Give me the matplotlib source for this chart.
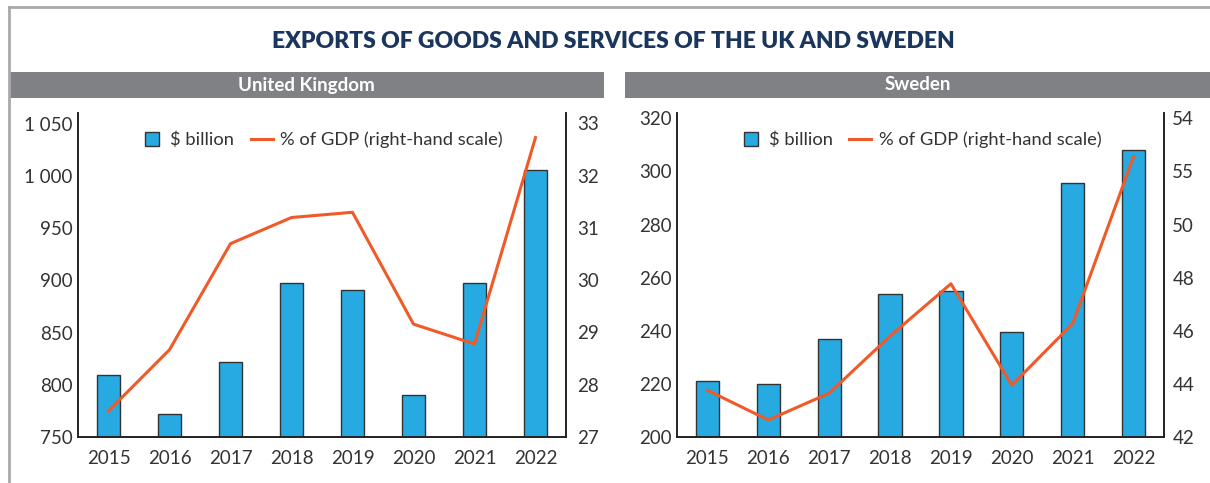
import matplotlib.pyplot as plt
from matplotlib.lines import Line2D
from matplotlib.patches import Rectangle

# data
years = ['2015', '2016', '2017', '2018', '2019', '2020', '2021', '2022']

uk_bn = [809, 772, 822, 898, 891, 790, 898, 1006]
uk_gdp = [27.5, 28.67, 30.7, 31.2, 31.3, 29.16, 28.78, 32.73]

se_bn = [221, 220, 237, 254, 255, 239.5, 295.5, 308]
se_gdp = [43.76, 42.64, 43.65, 45.8, 47.77, 43.95, 46.27, 52.56]

uk_left_ticks = [750, 800, 850, 900, 950, 1000, 1050]
uk_left_labels = ['750', '800', '850', '900', '950', '1 000', '1 050']
uk_right_ticks = [27, 28, 29, 30, 31, 32, 33]
se_left_ticks = [200, 220, 240, 260, 280, 300, 320]
se_right_ticks = [42, 44, 46, 48, 50, 52, 54]
se_right_labels = ['42', '44', '46', '48', '50', '55', '54']

BLUE = '#27a9e1'
EDGE = '#333333'
ORANGE = '#f05a28'
NAVY = '#1b365d'
GREY = '#808184'
TXT = '#333333'

FONT = 'Lato'

fig = plt.figure(figsize=(12.1, 4.83), dpi=100)
W, H = 1210, 483

# frame lines and title
fig.add_artist(Line2D([9 / W, 1], [1 - 7 / H, 1 - 7 / H], color='#a7a9ac', lw=2))
fig.add_artist(Line2D([9 / W, 9 / W], [0, 1 - 7 / H], color='#a7a9ac', lw=2))
fig.text(0.507, 1 - 42 / H, 'EXPORTS OF GOODS AND SERVICES OF THE UK AND SWEDEN',
         ha='center', va='center', color=NAVY, fontsize=16.5, fontweight='heavy',
         family=FONT)


def header(left, right, name):
    # grey header bar above each panel
    fig.add_artist(Rectangle((left / W, 1 - 98 / H), (right - left) / W, 26 / H,
                             transform=fig.transFigure, color=GREY, lw=0))
    fig.text((left + right) / 2 / W, 1 - 85 / H, name, ha='center', va='center',
             color='white', fontsize=13.5, fontweight='bold', family=FONT)


def draw(pos, bn, gdp, lt, ll, llim, rt, rl, rlim, rpad):
    ax = fig.add_axes(pos)
    x = range(len(years))
    ax.bar(x, bn, width=0.38, color=BLUE, edgecolor=EDGE, linewidth=1, zorder=2)
    ax.set_xlim(-0.5, len(years) - 0.5)
    ax.set_ylim(*llim)
    ax.set_yticks(lt)
    ax.set_yticklabels(ll)
    ax.set_xticks(list(x))
    ax.set_xticklabels(years)
    ax2 = ax.twinx()
    ax2.plot(x, gdp, color=ORANGE, lw=2.2, zorder=3)
    ax2.set_ylim(*rlim)
    ax2.set_yticks(rt)
    ax2.set_yticklabels(rl)
    for a in (ax, ax2):
        a.spines['top'].set_visible(False)
        for s in ('left', 'right', 'bottom'):
            a.spines[s].set_linewidth(1.2)
            a.spines[s].set_color('#222222')
        a.tick_params(length=0, labelsize=13.5, labelcolor=TXT)
        for lab in a.get_yticklabels() + a.get_xticklabels():
            lab.set_family(FONT)
    ax.tick_params(axis='y', pad=4)
    ax.tick_params(axis='x', pad=9)
    ax2.tick_params(axis='y', pad=rpad)
    handles = [Line2D([], [], marker='s', markersize=10.5, mfc=BLUE, mec=EDGE,
                      mew=1, linestyle='none'),
               Line2D([], [], color=ORANGE, lw=2.2)]
    ax2.legend(handles, ['$ billion', '% of GDP (right-hand scale)'], ncol=2,
               loc='center', bbox_to_anchor=(0.5, 0.917), frameon=False,
               prop={'family': FONT, 'size': 13.2}, handlelength=1.2,
               handletextpad=0.4, columnspacing=0.9, labelcolor=TXT)
    return ax, ax2


header(9, 604, 'United Kingdom')
header(625, 1210, 'Sweden')

bottom = 1 - 437 / H
height = (437 - 113) / H
draw([78 / W, bottom, 488 / W, height], uk_bn, uk_gdp,
     uk_left_ticks, uk_left_labels, (750, 1060.5),
     uk_right_ticks, [str(t) for t in uk_right_ticks], (27, 33.2), 8)
draw([677 / W, bottom, 487 / W, height], se_bn, se_gdp,
     se_left_ticks, [str(t) for t in se_left_ticks], (200, 322),
     se_right_ticks, se_right_labels, (42, 54.2), 6)

plt.savefig('out.png', dpi=100)
